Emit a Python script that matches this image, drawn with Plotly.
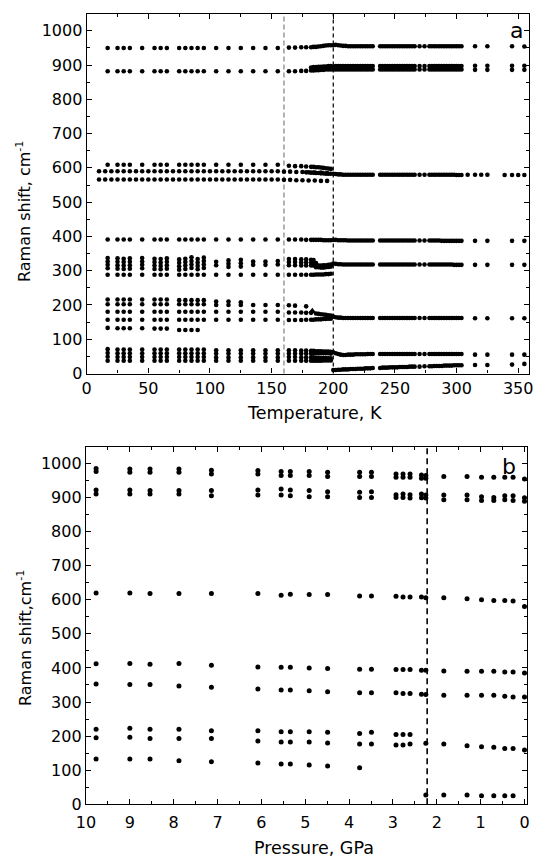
import plotly.graph_objects as go

# ---------------- Panel a: Raman shift vs temperature ----------------
# low-temperature measurement columns (K)
T_cols = [17, 25, 30, 35, 45, 55, 60, 65, 75, 80, 85, 90, 95, 105, 115, 125, 135, 145, 155]
c950 = [950, 950, 950, 950, 950, 950, 950, 950, 950, 950, 950, 950, 950, 950, 950, 950, 950, 950, 950]
c882 = [882, 882, 882, 882, 882, 882, 882, 882, 882, 882, 882, 882, 882, 882, 882, 882, 882, 882, 882]
c609 = [609, 609, 609, 609, 609, 609, 609, 609, 609, 609, 609, 609, 609, 609, 609, 609, 609, 609, 609]
c391 = [391, 391, 391, 391, 391, 391, 391, 391, 391, 391, 391, 391, 391, 391, 391, 391, 391, 391, 391]
r336 = [337, 336, 335, 336, 337, 335, 334, 336, 333, 335, 339, 334, 338, 326, 330, 332, 327, 327, 328]
r326 = [327, 326, 325, 326, 327, 325, 324, 326, 323, 325, 328, 324, 328, 316, 320, 322, 317, 317, 318]
r316 = [317, 316, 315, 316, 317, 315, 314, 316, 313, 315, 318, 314, 318, None, 311, 312, None, None, None]
r306 = [307, 306, 305, 306, 307, 305, 304, 306, 303, 305, 308, 304, 308, None, None, None, None, None, None]
r288 = [288, 288, 288, 288, 288, 288, 288, 288, 288, 288, 288, 288, 288, 288, 288, 288, 288, 288, 288]
r216 = [216, 216, 216, 216, 216, 216, 216, 216, 214, 214, 214, 214, 214, 210, 210, 208, None, None, None]
r202 = [202, 202, 202, 202, 202, 202, 202, 202, 202, 202, 202, 202, 202, 200, 200, 200, 200, 200, 200]
r180 = [180, 180, 180, 180, 180, 180, 180, 180, 180, 180, 180, 180, 180, 180, 180, 180, 180, 180, 180]
r157 = [157, 157, 157, 157, 157, 157, 157, 157, 157, 157, 157, 157, 157, 157, 157, 157, 157, 157, 157]
r132 = [133, 132, 132, 132, 132, 131, 131, 131, 127, 127, 127, 127, None, None, None, None, None, None, None]
r70 = [71, 70, 70, 70, 70, 70, 70, 70, 70, 70, 70, 70, 70, 68, 68, 68, 68, 68, 68]
r59 = [60, 59, 59, 59, 59, 59, 59, 59, 59, 59, 59, 59, 59, 58, 58, 58, 58, 58, 58]
r48 = [49, 48, 48, 48, 48, 48, 48, 48, 48, 48, 48, 48, 48, 47, 47, 47, 47, 47, 47]
r37 = [37, 37, 37, 37, 37, 37, 37, 37, 37, 37, 37, 37, 37, 37, 37, 37, 37, 37, 37]

# finely sampled 590 / 565 cm-1 doublet (K)
T_fine = [10, 15, 20, 25, 30, 35, 40, 45, 50, 55, 60, 65, 70, 75, 80, 85, 90, 95, 100,
          105, 110, 115, 120, 125, 130, 135, 140, 145, 150, 155, 160, 165, 170, 175, 180,
          185, 190, 195]
f590 = [590, 590, 590, 590, 590, 590, 590, 590, 590, 590, 590, 590, 590, 590, 590, 590, 590, 590, 590,
        590, 590, 590, 590, 590, 590, 590, 590, 590, 590, 590, 589, 589, 588, 588, 587, 586, 586, 585]
f566 = [566, 566, 566, 566, 566, 566, 566, 566, 566, 566, 566, 566, 566, 566, 566, 566, 566, 566, 566,
        566, 566, 566, 566, 566, 566, 566, 566, 566, 566, 566, 565, 565, 564, 564, 563, 563, 562, 562]

# transition region 160-200 K
T_mid = [164, 169, 174, 178, 182, 184, 186, 188, 190, 192, 194, 196, 198]
m952 = [951, 951, 952, 952, 952, 953, 953, 954, 955, 956, 957, 958, 958]
m884 = [882, 882, 883, 883, 884, 884, 885, 885, 886, 886, 887, 887, 887]
m895 = [None, None, None, None, 893, 894, 894, 895, 895, 896, 896, 897, 897]
m605 = [606, 605, 605, 604, 603, 603, 602, 602, 601, 600, 599, 598, 597]
m586 = [None, None, None, 587, 586, 586, 585, 585, 584, 584, 583, 583, 583]
m390 = [391, 391, 391, 390, 390, 390, 390, 390, 390, 389, 389, 389, 389]
m333 = [334, 334, 333, 333, 332, 331, None, None, None, None, None, None, None]
m324 = [325, 325, 324, 324, 323, 323, 322, None, None, None, None, None, None]
m315 = [316, 316, 315, 315, 315, 315, 315, 315, 315, 316, 316, 317, 318]
m309 = [None, None, None, None, None, None, 310, 310, 309, 309, 310, 311, 312]
m289 = [288, 288, 288, 288, 288, 288, 289, 289, 289, 289, 290, 290, 291]
m198 = [199, 198, None, 196, None, None, None, None, None, None, None, None, None]
m178 = [178, 178, 178, 177, 177, None, 175, 174, 173, 172, 171, 170, 169]
m157 = [156, 156, 156, 157, 157, 157, 158, 158, 158, 159, 159, 160, 160]
m66 = [68, 68, 67, 67, 66, 66, 65, 65, 65, 64, 64, 64, 63]
m58 = [58, 58, 58, 58, 58, 58, 59, 59, 59, 59, 59, 59, 58]
m47 = [48, 48, 47, 47, 47, 46, 46, 46, 45, 45, 45, 44, 44]
m37 = [37, 37, 37, 37, 37, 37, 37, 37, 37, 38, 38, 38, 38]
tri_T = [183]
tri_v = [182]

# high-temperature phase 200-355 K
T_high = [200, 202, 204, 206, 208, 210, 212, 214, 216, 218, 220, 222, 224, 226, 228, 230, 232,
          238, 240, 242, 244, 246, 248, 250, 252, 254, 256, 258, 260, 262, 264, 266,
          270, 274, 278, 280, 282, 284, 286, 288, 290, 292, 294, 296, 298, 300, 302, 304,
          315, 325, 345, 355]
h955 = [958, 959, 958, 957, 956, 956, 955, 955, 955, 955, 955, 955, 955, 955, 955, 955, 955,
        955, 955, 955, 955, 955, 955, 955, 955, 955, 955, 955, 955, 955, 955, 955,
        955, 955, 955, 955, 955, 955, 955, 955, 955, 955, 955, 955, 955, 955, 955, 955,
        955, 955, 955, 954]
h897 = [896, 897, 897, 897, 897, 897, 897, 897, 897, 897, 897, 897, 897, 897, 897, 897, 897,
        897, 897, 897, 897, 897, 897, 897, 897, 897, 897, 897, 897, 897, 897, 897,
        897, 897, 897, 897, 897, 897, 897, 897, 897, 897, 897, 897, 897, 897, 897, 897,
        898, 898, 898, 898]
h887 = [887, 887, 887, 887, 887, 887, 887, 887, 887, 887, 887, 887, 887, 887, 887, 887, 887,
        887, 887, 887, 887, 887, 887, 887, 887, 887, 887, 887, 887, 887, 887, 887,
        887, 887, 887, 887, 887, 887, 887, 887, 887, 887, 887, 887, 887, 887, 887, 887,
        886, 886, 886, 886]
h580 = [583, 582, 581, 581, 580, 580, 580, 580, 580, 580, 580, 580, 580, 580, 580, 580, 580,
        580, 580, 580, 580, 580, 580, 580, 580, 580, 580, 580, 580, 580, 580, 580,
        580, 580, 580, 580, 580, 580, 580, 580, 580, 580, 580, 580, 580, 579, 579, 579,
        580, 580, 579, 579]
h388 = [390, 390, 389, 389, 389, 389, 388, 388, 388, 388, 388, 388, 388, 388, 388, 388, 388,
        388, 388, 388, 388, 388, 388, 388, 388, 388, 388, 388, 388, 388, 388, 388,
        388, 388, 388, 388, 388, 388, 388, 387, 387, 387, 387, 387, 387, 387, 387, 387,
        387, 387, 387, 387]
h318 = [321, 320, 319, 319, 318, 318, 318, 318, 318, 318, 318, 318, 318, 318, 318, 318, 318,
        318, 318, 318, 318, 318, 318, 318, 318, 318, 318, 318, 318, 318, 318, 318,
        318, 318, 318, 318, 318, 318, 318, 318, 318, 318, 318, 318, 317, 317, 317, 317,
        317, 317, 317, 317]
h162 = [166, 164, 163, 163, 162, 162, 162, 162, 162, 162, 162, 162, 162, 162, 162, 162, 162,
        162, 162, 162, 162, 162, 162, 162, 162, 162, 162, 162, 162, 162, 162, 162,
        162, 162, 162, 162, 162, 162, 162, 162, 162, 162, 162, 162, 162, 162, 162, 162,
        161, 161, 161, 161]
h57 = [62, 59, 57, 55, 54, 54, 55, 55, 55, 56, 56, 56, 56, 56, 57, 57, 57,
       57, 57, 57, 57, 57, 57, 57, 57, 57, 57, 57, 57, 57, 57, 57,
       57, 57, 57, 57, 57, 57, 57, 57, 57, 57, 57, 57, 57, 57, 57, 57,
       55, 55, 55, 55]
hlow = [10, 10, 11, 11, 12, 12, 12, 13, 13, 13, 14, 14, 14, 15, 15, 15, 16,
        16, 17, 17, 17, 18, 18, 18, 18, 19, 19, 19, 19, 20, 20, 20,
        20, 21, 21, 21, 22, 22, 22, 22, 23, 23, 23, 23, 24, 24, 24, 24,
        25, 25, 26, 28]
T_580x = [309, 320, 339, 350]
v_580x = [580, 580, 579, 579]

# ---------------- Panel b: Raman shift vs pressure ----------------
P = [9.77, 9.0, 8.54, 7.88, 7.14, 6.08, 5.55, 5.34, 4.91, 4.49, 3.76, 3.49,
     2.93, 2.77, 2.61, 2.35, 2.25, 1.84, 1.31, 0.98, 0.70, 0.45, 0.26, 0.0]
bA = [985, 983, 983, 983, 980, 979, 976, 976, 976, 974, 974, 974, 969, 969, 969, 966, 964,
      None, None, None, None, None, None, None]
bB = [976, 974, 974, 974, 969, 969, 964, 964, 964, 961, 961, 961, 959, 959, 959, 956, 956,
      961, 961, 959, 959, 959, 959, 954]
bC = [922, 922, 920, 920, 920, 922, 925, 922, 920, 917, 915, 917, 908, 910, 908, 910, 907,
      907, 907, 902, 900, 905, 905, 899]
bD = [910, 910, 910, 910, 905, 907, 907, 905, 902, 902, 900, 900, 900, 900, 898, 899, 898,
      893, 893, 891, 891, 893, 891, 889]
bE = [620, 620, 618, 618, 618, 618, 613, 616, 615, 615, 611, 611, 610, 608, 608, 608, 606,
      606, 603, 600, 598, 598, 596, 580]
bF = [412, 413, 411, 413, 408, 403, 402, 402, 400, 398, 396, 396, 395, 395, 395, 393, 393,
      391, 390, 390, 390, 388, 388, 385]
bG = [353, 351, 351, 347, 343, 338, 335, 335, 333, 330, 327, 327, 327, 325, 325, 323, 322,
      320, 320, 320, 320, 317, 315, 315]
bH = [220, 223, 220, 220, 216, 216, 213, 213, 213, 211, 208, 211, 205, 205, 205,
      None, None, None, None, None, None, None, None, None]
bI = [195, 197, 193, 193, 193, 186, 183, 183, 183, 180, 177, 177, 174, 174, 177, None, 179,
      177, 172, 169, 167, 164, 164, 159]
bJ = [133, 133, 133, 128, 125, 121, 118, 118, 115, 112, 107,
      None, None, None, None, None, None, None, None, None, None, None, None, None]
bK = [None, None, None, None, None, None, None, None, None, None, None, None, None, None, None, None,
      27, 27, 27, 25, 25, 25, 25, None]

T_transitions = [160, 200]
P_transition = [2.22]

x_ticks_T = [0, 50, 100, 150, 200, 250, 300, 350]
x_ticks_P = [10, 9, 8, 7, 6, 5, 4, 3, 2, 1, 0]
y_ticks = [0, 100, 200, 300, 400, 500, 600, 700, 800, 900, 1000]

FONT = "DejaVu Sans"
fig = go.Figure()


def add(xs, ys, xa, ya, symbol="circle", size=4.6):
    pts = [(x, y) for x, y in zip(xs, ys) if y is not None]
    fig.add_trace(go.Scatter(
        x=[p[0] for p in pts], y=[p[1] for p in pts], mode="markers",
        marker=dict(size=size, color="black", symbol=symbol, line=dict(width=0)),
        xaxis=xa, yaxis=ya, showlegend=False, hoverinfo="skip"))


for band in [c950, c882, c609, c391, r336, r326, r316, r306, r288, r216, r202, r180,
             r157, r132, r70, r59, r48, r37]:
    add(T_cols, band, "x", "y")
for band in [f590, f566]:
    add(T_fine, band, "x", "y")
for band in [m952, m884, m895, m605, m586, m390, m333, m324, m315, m309, m289, m198,
             m178, m157, m66, m58, m47, m37]:
    add(T_mid, band, "x", "y")
add(tri_T, tri_v, "x", "y", symbol="triangle-up", size=7)
for band in [h955, h897, h887, h580, h388, h318, h162, h57, hlow]:
    add(T_high, band, "x", "y")
add(T_580x, v_580x, "x", "y")

for band in [bA, bB, bC, bD, bE, bF, bG, bH, bI, bJ, bK]:
    add(P, band, "x2", "y2", size=5)

# transition lines
fig.add_shape(type="line", xref="x", yref="y domain", x0=T_transitions[0], x1=T_transitions[0],
              y0=0, y1=1, line=dict(color="#808080", width=1.2, dash="5px,3px"), layer="below")
fig.add_shape(type="line", xref="x", yref="y domain", x0=T_transitions[1], x1=T_transitions[1],
              y0=0, y1=1, line=dict(color="black", width=1.2, dash="4px,3px"), layer="below")
fig.add_shape(type="line", xref="x2", yref="y2 domain", x0=P_transition[0], x1=P_transition[0],
              y0=0, y1=1, line=dict(color="black", width=1.6, dash="6px,4px"), layer="below")

W, H = 535, 859
axis_common = dict(showgrid=False, zeroline=False, showline=True, linecolor="black", linewidth=1.3,
                   mirror="ticks", ticks="inside", ticklen=5, tickwidth=1.2, tickcolor="black",
                   tickfont=dict(family=FONT, size=16, color="black"), automargin=False)

fig.update_layout(
    width=W, height=H, margin=dict(l=0, r=0, t=0, b=0),
    paper_bgcolor="white", plot_bgcolor="white",
    xaxis=dict(axis_common, domain=[86.7 / W, 529.3 / W], range=[0, 359], anchor="y",
               tickvals=x_ticks_T, ticktext=[str(v) for v in x_ticks_T],
               minor=dict(ticks="inside", ticklen=3, tickwidth=1.1, tickcolor="black", dtick=25, tick0=0)),
    yaxis=dict(axis_common, domain=[1 - 373.5 / H, 1 - 14 / H], range=[0, 1049], anchor="x",
               tickvals=y_ticks, ticktext=[str(v) for v in y_ticks],
               minor=dict(ticks="inside", ticklen=3, tickwidth=1.1, tickcolor="black", dtick=50, tick0=0)),
    xaxis2=dict(axis_common, domain=[86 / W, 527.3 / W], range=[10.0, -0.064], anchor="y2",
                tickvals=x_ticks_P, ticktext=[str(v) for v in x_ticks_P], ticklabelstandoff=3,
                minor=dict(ticks="inside", ticklen=3, tickwidth=1.1, tickcolor="black", dtick=0.5, tick0=0)),
    yaxis2=dict(axis_common, domain=[1 - 804.3 / H, 1 - 447.3 / H], range=[0, 1047], anchor="x2",
                tickvals=y_ticks, ticktext=[str(v) for v in y_ticks],
                minor=dict(ticks="inside", ticklen=3, tickwidth=1.1, tickcolor="black", dtick=50, tick0=0)),
)

ann = [
    dict(text="Raman shift, cm<sup>-1</sup>", x=24 / W, y=1 - 212 / H, textangle=-90, size=16),
    dict(text="Raman shift,cm<sup>-1</sup>", x=24 / W, y=1 - 638 / H, textangle=-90, size=16),
    dict(text="Temperature, K", x=314 / W, y=1 - 413 / H, textangle=0, size=17.5),
    dict(text="Pressure, GPa", x=314 / W, y=1 - 848 / H, textangle=0, size=17.5),
    dict(text="a", x=516 / W, y=1 - 30 / H, textangle=0, size=22),
    dict(text="b", x=509 / W, y=1 - 466 / H, textangle=0, size=22),
]
for a in ann:
    fig.add_annotation(text=a["text"], x=a["x"], y=a["y"], xref="paper", yref="paper",
                       showarrow=False, textangle=a["textangle"], xanchor="center", yanchor="middle",
                       font=dict(family=FONT, size=a["size"], color="black"))

fig.write_html("out.html")
